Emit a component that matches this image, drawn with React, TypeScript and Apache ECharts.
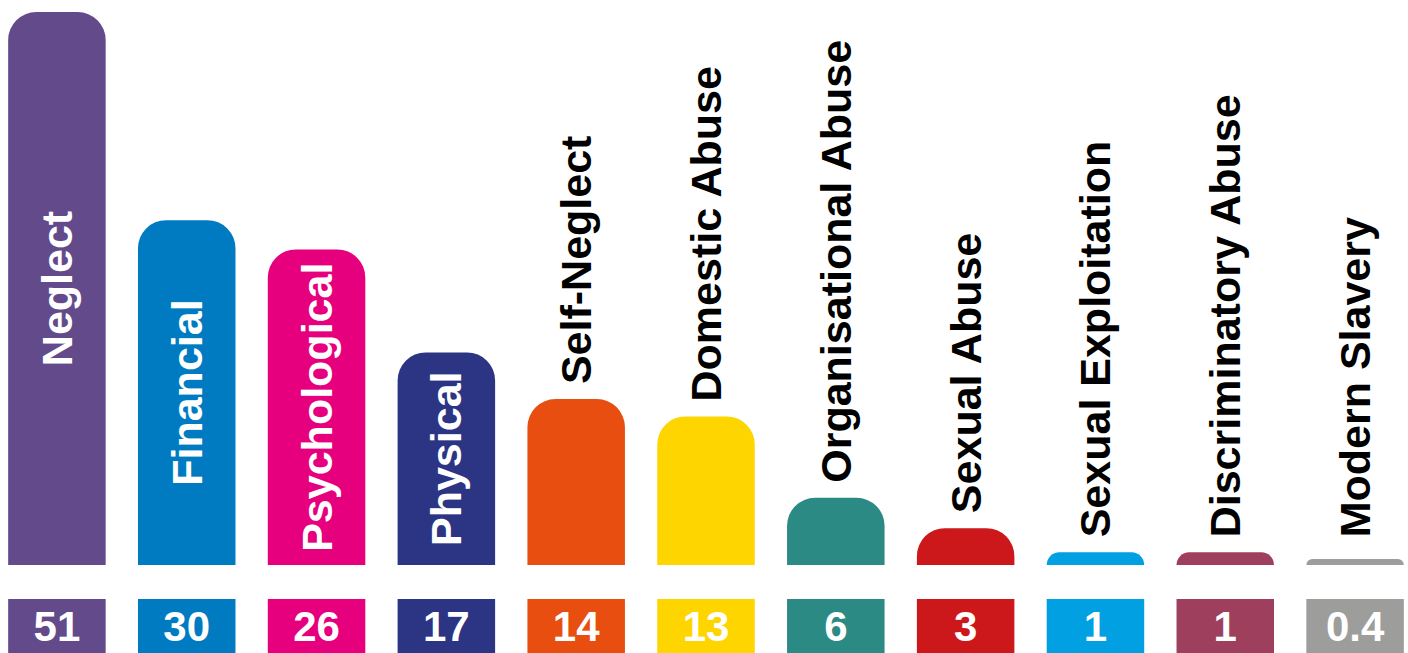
import React, { useEffect, useRef } from "react";
import * as echarts from "echarts";

const categories = [
  "Neglect",
  "Financial",
  "Psychological",
  "Physical",
  "Self-Neglect",
  "Domestic Abuse",
  "Organisational Abuse",
  "Sexual Abuse",
  "Sexual Exploitation",
  "Discriminatory Abuse",
  "Modern Slavery",
];

// printed shares (boxes under the bars)
const shares = [51, 30, 26, 17, 14, 13, 6, 3, 1, 1, 0.4];

// bar lengths as drawn in the infographic (same unit as the shares)
const barLengths = [51, 31.8, 29.1, 19.6, 15.3, 13.7, 6.2, 3.4, 1.17, 1.17, 0.55];

const colors = [
  "#634b8b",
  "#007bc2",
  "#e6007e",
  "#2b3584",
  "#e84e10",
  "#ffd500",
  "#2b8a84",
  "#cc181a",
  "#00a0e3",
  "#9f3f5e",
  "#9d9d9c",
];

const FONT = "'Liberation Sans', Arial, Helvetica, sans-serif";

export default function App() {
  const ref = useRef<HTMLDivElement>(null);

  useEffect(() => {
    if (!ref.current) return;
    const chart = echarts.init(ref.current, undefined, { renderer: "svg" });

    const yMax = 51;
    const gridTop = 12;
    const gridHeight = 553;
    const pxPerUnit = gridHeight / yMax;
    const insideThreshold = 18;
    const smallest = Math.min(...barLengths.filter((v) => v >= 1));

    const mainData = barLengths.map((v, i) => {
      const inside = v > insideThreshold;
      const extra = Math.max(0, smallest - v) * pxPerUnit;
      return {
        value: v,
        itemStyle: { color: colors[i], borderRadius: [28, 28, 0, 0] },
        label: inside
          ? {
              show: true,
              position: "inside",
              rotate: 90,
              align: "center",
              verticalAlign: "middle",
              color: "#ffffff",
            }
          : {
              show: true,
              position: "top",
              rotate: 90,
              align: "left",
              verticalAlign: "middle",
              distance: 15 + extra,
              color: "#000000",
            },
      };
    });

    const boxData = shares.map((s, i) => ({
      value: 1,
      share: s,
      itemStyle: { color: colors[i] },
    }));

    chart.setOption({
      animation: false,
      backgroundColor: "#ffffff",
      grid: [
        { left: 0, right: 0, top: gridTop, height: gridHeight },
        { left: 0, right: 0, top: 599, height: 64 },
      ],
      xAxis: [
        {
          type: "category",
          gridIndex: 0,
          data: categories,
          axisLine: { show: false },
          axisTick: { show: false },
          axisLabel: { show: false },
        },
        {
          type: "category",
          gridIndex: 1,
          data: categories,
          axisLine: { show: false },
          axisTick: { show: false },
          axisLabel: { show: false },
        },
      ],
      yAxis: [
        {
          type: "value",
          gridIndex: 0,
          min: 0,
          max: yMax,
          show: false,
          splitLine: { show: false },
        },
        {
          type: "value",
          gridIndex: 1,
          min: 0,
          max: 1,
          show: false,
          splitLine: { show: false },
        },
      ],
      series: [
        {
          type: "bar",
          xAxisIndex: 0,
          yAxisIndex: 0,
          barWidth: 97.5,
          data: mainData,
          label: {
            formatter: (p: any) => categories[p.dataIndex],
            fontFamily: FONT,
            fontWeight: "bold",
            fontSize: 43,
          },
        },
        {
          type: "bar",
          xAxisIndex: 1,
          yAxisIndex: 1,
          barWidth: 97.5,
          data: boxData,
          label: {
            show: true,
            position: "inside",
            formatter: (p: any) => String(shares[p.dataIndex]),
            fontFamily: FONT,
            fontWeight: "bold",
            fontSize: 42,
            color: "#ffffff",
          },
        },
      ],
    });

    return () => chart.dispose();
  }, []);

  return (
    <div
      style={{
        position: "absolute",
        left: 0,
        top: 0,
        width: 1408,
        height: 653,
        overflow: "hidden",
        background: "#ffffff",
      }}
    >
      <div
        ref={ref}
        style={{ position: "absolute", left: -8, top: 0, width: 1428, height: 653 }}
      />
    </div>
  );
}
